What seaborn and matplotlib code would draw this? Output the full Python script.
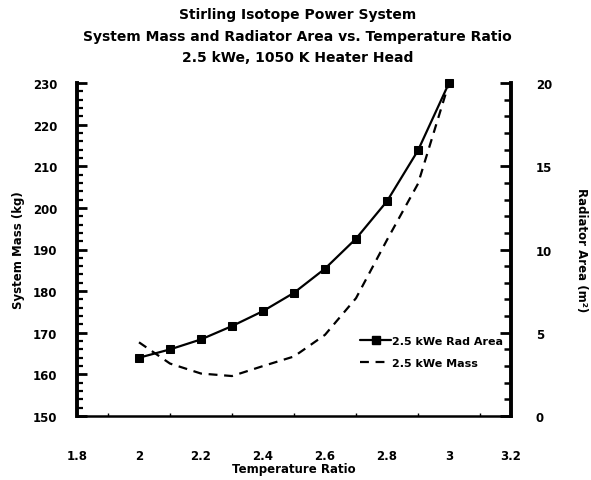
import matplotlib
matplotlib.use("Agg")
import matplotlib.pyplot as plt
import seaborn as sns
import pandas as pd
from matplotlib.ticker import MultipleLocator
from matplotlib.lines import Line2D

# ---- data ----
temp_ratio = [2.0, 2.1, 2.2, 2.3, 2.4, 2.5, 2.6, 2.7, 2.8, 2.9, 3.0]
rad_area = [3.5, 4.0, 4.6, 5.4, 6.3, 7.4, 8.85, 10.65, 12.9, 15.95, 20.0]
system_mass = [167.7, 162.6, 160.2, 159.6, 162.0, 164.3, 169.5, 178.3, 192.3, 205.8, 230.0]

title_lines = ["Stirling Isotope Power System",
               "System Mass and Radiator Area vs. Temperature Ratio",
               "2.5 kWe, 1050 K Heater Head"]
label_area = "2.5 kWe Rad Area"
label_mass = "2.5 kWe Mass"

df = pd.DataFrame({"ratio": temp_ratio, "area": rad_area, "mass": system_mass})

sns.set_style("white")
plt.rcParams["font.family"] = ["DejaVu Sans"]
plt.rcParams["font.weight"] = "bold"
plt.rcParams["text.color"] = "black"
plt.rcParams["axes.labelcolor"] = "black"
plt.rcParams["xtick.color"] = "black"
plt.rcParams["ytick.color"] = "black"
plt.rcParams["axes.edgecolor"] = "black"

fig = plt.figure(figsize=(5.91, 4.81), dpi=100)
ax = fig.add_axes([77 / 591, 1 - 417 / 481, (511 - 77) / 591, (417 - 84) / 481])
ax2 = ax.twinx()

sns.lineplot(data=df, x="ratio", y="mass", ax=ax, color="black", lw=1.6,
             linestyle=(0, (4, 3)), clip_on=False)
sns.lineplot(data=df, x="ratio", y="area", ax=ax2, color="black", lw=1.6,
             marker="s", markersize=6, markeredgecolor="black", clip_on=False)

ax.set_xlim(1.8, 3.2)
ax.set_ylim(150, 230)
ax2.set_ylim(0, 20)

ax.xaxis.set_major_locator(MultipleLocator(0.2))
ax.xaxis.set_minor_locator(MultipleLocator(0.1))
ax.yaxis.set_major_locator(MultipleLocator(10))
ax.yaxis.set_minor_locator(MultipleLocator(2))
ax2.yaxis.set_major_locator(MultipleLocator(5))
ax2.yaxis.set_minor_locator(MultipleLocator(1))

ax.set_xticks([1.8, 2.0, 2.2, 2.4, 2.6, 2.8, 3.0, 3.2])
ax.set_xticklabels(["1.8", "2", "2.2", "2.4", "2.6", "2.8", "3", "3.2"])

for a in (ax, ax2):
    a.spines["top"].set_visible(False)
    a.grid(False)
ax.spines["right"].set_visible(False)
ax2.spines["left"].set_visible(False)
ax2.spines["bottom"].set_visible(False)
ax.spines["left"].set_linewidth(2.8)
ax.spines["bottom"].set_linewidth(1.8)
ax2.spines["right"].set_linewidth(2.8)

ax.tick_params(axis="y", which="major", direction="in", length=7, width=2,
               labelsize=8.5, pad=14)
ax.tick_params(axis="y", which="minor", direction="in", length=4, width=1.6, left=True)
ax.tick_params(axis="x", which="major", direction="inout", length=12, width=2.5,
               labelsize=8.5, pad=18)
ax.tick_params(axis="x", which="minor", direction="in", length=2, width=1, bottom=True)
ax2.tick_params(axis="y", which="major", direction="in", length=8, width=2,
                labelsize=8.5, pad=18)
ax2.tick_params(axis="y", which="minor", direction="in", length=5, width=1.8, right=True)

for lab in ax.get_xticklabels() + ax.get_yticklabels() + ax2.get_yticklabels():
    lab.set_fontweight("bold")

ax.set_xlabel("Temperature Ratio", fontsize=8.5, fontweight="bold", labelpad=0)
ax.set_ylabel("System Mass (kg)", fontsize=8.5, fontweight="bold", labelpad=6)
ax2.set_ylabel("Radiator Area (m²)", fontsize=8.5, fontweight="bold",
               rotation=-90, labelpad=26)

for i, (t, yy) in enumerate(zip(title_lines, [15, 37, 58])):
    fig.text(0.503, 1 - yy / 481, t, ha="center", va="center",
             fontsize=10, fontweight="bold")

handles = [Line2D([], [], color="black", lw=1.6, marker="s", markersize=6),
           Line2D([], [], color="black", lw=1.6, linestyle=(0, (4, 3)))]
leg = ax2.legend(handles, [label_area, label_mass], loc="center left",
                 bbox_to_anchor=(360 / 591, 1 - 353 / 481),
                 bbox_transform=fig.transFigure, frameon=False,
                 handlelength=2.8, handletextpad=0.1, borderpad=0,
                 borderaxespad=0, labelspacing=1.1,
                 prop={"size": 8, "weight": "bold"})

fig.savefig("out.png", dpi=100)
